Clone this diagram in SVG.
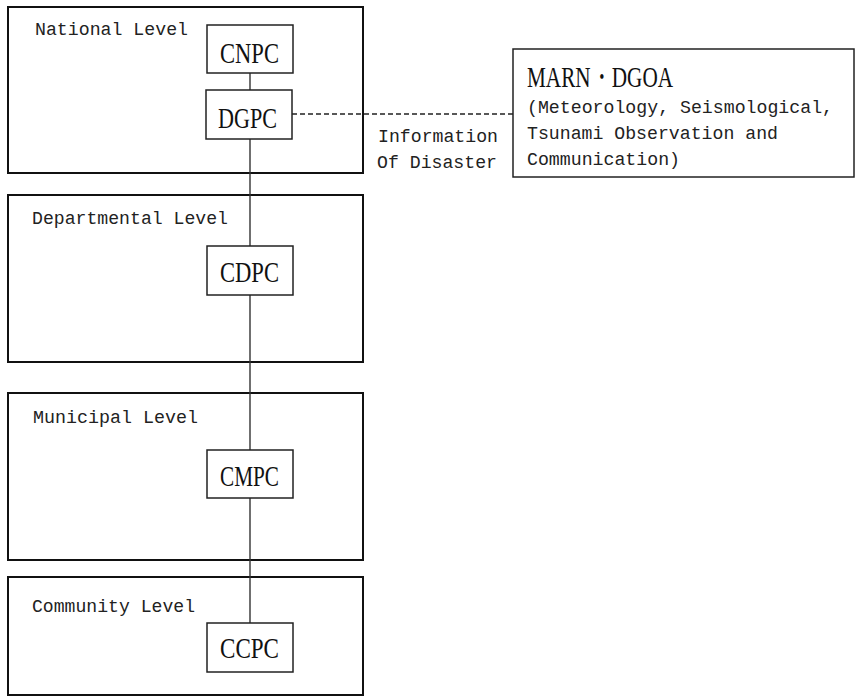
<svg xmlns="http://www.w3.org/2000/svg" width="857" height="698" viewBox="0 0 857 698">
<style>
.level{fill:#fff;stroke:#111;stroke-width:2}
.node{fill:#fff;stroke:#222;stroke-width:1.5}
.lbl{font-family:"Liberation Mono","DejaVu Sans Mono",monospace;font-size:18px;fill:#222}
.nl{font-family:"Liberation Serif","Times New Roman",serif;font-size:30px;fill:#111}
.conn{stroke:#333;stroke-width:1.4;fill:none}
.dash{stroke:#222;stroke-width:1.4;stroke-dasharray:5 3;fill:none}
</style>
<rect width="857" height="698" fill="#fff"/>
<g id="national-level">
<rect class="level" x="8" y="7" width="355" height="166"/>
<text class="lbl" x="35" y="35" textLength="153" lengthAdjust="spacingAndGlyphs">National Level</text>
</g>
<g id="departmental-level">
<rect class="level" x="8" y="195" width="355" height="167"/>
<text class="lbl" x="32" y="224" textLength="196" lengthAdjust="spacingAndGlyphs">Departmental Level</text>
</g>
<g id="municipal-level">
<rect class="level" x="8" y="393" width="355" height="167"/>
<text class="lbl" x="33" y="423" textLength="165" lengthAdjust="spacingAndGlyphs">Municipal Level</text>
</g>
<g id="community-level">
<rect class="level" x="8" y="577" width="355" height="118"/>
<text class="lbl" x="32" y="612" textLength="163" lengthAdjust="spacingAndGlyphs">Community Level</text>
</g>
<g id="connectors">
<line class="conn" x1="250" y1="73" x2="250" y2="90"/>
<line class="conn" x1="250" y1="139" x2="250" y2="246"/>
<line class="conn" x1="250" y1="295" x2="250" y2="450"/>
<line class="conn" x1="250" y1="498" x2="250" y2="623"/>
<line class="dash" x1="292" y1="114" x2="513" y2="114"/>
<text class="lbl" x="378" y="142" textLength="120" lengthAdjust="spacingAndGlyphs">Information</text>
<text class="lbl" x="377" y="168" textLength="120" lengthAdjust="spacingAndGlyphs">Of Disaster</text>
</g>
<g id="CNPC">
<rect class="node" x="207" y="25" width="86" height="48"/>
<text class="nl" x="220" y="63" textLength="59" lengthAdjust="spacingAndGlyphs">CNPC</text>
</g>
<g id="DGPC">
<rect class="node" x="206" y="90" width="86" height="49"/>
<text class="nl" x="218" y="128" textLength="59" lengthAdjust="spacingAndGlyphs">DGPC</text>
</g>
<g id="CDPC">
<rect class="node" x="207" y="246" width="86" height="49"/>
<text class="nl" x="220" y="282" textLength="59" lengthAdjust="spacingAndGlyphs">CDPC</text>
</g>
<g id="CMPC">
<rect class="node" x="207" y="450" width="86" height="48"/>
<text class="nl" x="220" y="486" textLength="59" lengthAdjust="spacingAndGlyphs">CMPC</text>
</g>
<g id="CCPC">
<rect class="node" x="207" y="623" width="86" height="49"/>
<text class="nl" x="220" y="658" textLength="59" lengthAdjust="spacingAndGlyphs">CCPC</text>
</g>
<g id="MARN-DGOA">
<rect class="node" x="513" y="49" width="341" height="128"/>
<text class="nl" x="527" y="87" textLength="146" lengthAdjust="spacingAndGlyphs">MARN・DGOA</text>
<text class="lbl" x="527" y="113" textLength="306" lengthAdjust="spacingAndGlyphs">(Meteorology, Seismological,</text>
<text class="lbl" x="527" y="139" textLength="251" lengthAdjust="spacingAndGlyphs">Tsunami Observation and</text>
<text class="lbl" x="527" y="165" textLength="153" lengthAdjust="spacingAndGlyphs">Communication)</text>
</g>
</svg>
